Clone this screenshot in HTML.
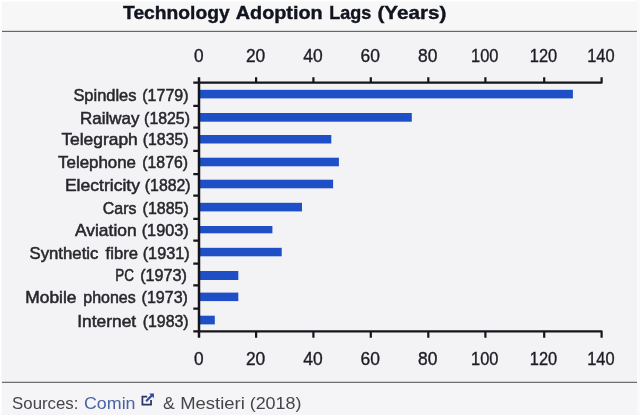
<!DOCTYPE html>
<html lang="en"><head><meta charset="utf-8"><title>Technology Adoption Lags (Years)</title>
<style>html,body{margin:0;padding:0;background:#fff;}body{width:640px;height:415px;overflow:hidden;}svg{display:block;}text{font-family:"Liberation Sans",sans-serif;}</style></head><body>
<svg width="640" height="415" viewBox="0 0 640 415">
<defs><filter id="soft" x="0" y="0" width="640" height="415" filterUnits="userSpaceOnUse" color-interpolation-filters="sRGB"><feGaussianBlur stdDeviation="0.42"/></filter></defs>
<rect x="0" y="0" width="640" height="415" fill="#ffffff"/>
<g filter="url(#soft)">
<rect x="637" y="0" width="3" height="415" fill="#fafafb"/>
<rect x="1.5" y="1.5" width="635.5" height="30" fill="#f7f7f7"/>
<rect x="1.5" y="31.5" width="635.5" height="350.5" fill="#f3f3f6"/>
<rect x="1.5" y="382" width="635.5" height="33" fill="#f5f5f7"/>
<rect x="2" y="30.8" width="635" height="1.2" fill="#686868"/>
<rect x="2" y="381.75" width="635" height="1.2" fill="#686868"/>
<g font-weight="bold" font-size="18.4" fill="#12141f" stroke="#12141f" stroke-width="0.4">
<text x="123.1" y="18.8" textLength="106.5" lengthAdjust="spacingAndGlyphs">Technology</text>
<text x="235.8" y="18.8" textLength="86.8" lengthAdjust="spacingAndGlyphs">Adoption</text>
<text x="329.3" y="18.8" textLength="42.0" lengthAdjust="spacingAndGlyphs">Lags</text>
<text x="377.4" y="18.8" textLength="68.9" lengthAdjust="spacingAndGlyphs">(Years)</text>
</g>
<g fill="#1f4fc6">
<rect x="199.0" y="89.8" width="373.9" height="8.6"/>
<rect x="199.0" y="113.0" width="212.8" height="8.7"/>
<rect x="199.0" y="135.0" width="132.3" height="8.5"/>
<rect x="199.0" y="157.7" width="139.9" height="8.6"/>
<rect x="199.0" y="179.7" width="134.1" height="8.6"/>
<rect x="199.0" y="202.8" width="103.0" height="8.6"/>
<rect x="199.0" y="226.0" width="73.4" height="7.3"/>
<rect x="199.0" y="247.8" width="82.7" height="8.5"/>
<rect x="199.0" y="271.0" width="39.3" height="9.0"/>
<rect x="199.0" y="292.6" width="39.3" height="8.5"/>
<rect x="199.0" y="315.7" width="15.8" height="8.7"/>
</g>
<g stroke="#15151a" stroke-width="2.2" fill="none" stroke-linecap="butt">
<path stroke-width="2.5" d="M199.0 77.2V337.8"/>
<path stroke-linejoin="round" d="M193.3 82.7H601.6V77.2"/>
<path stroke-linejoin="round" d="M193.3 331.3H601.6V337.8"/>
<path d="M256.1 77.2V82.7M256.1 331.3V337.8M313.4 77.2V82.7M313.4 331.3V337.8M370.8 77.2V82.7M370.8 331.3V337.8M428.3 77.2V82.7M428.3 331.3V337.8M485.4 77.2V82.7M485.4 331.3V337.8M544.2 77.2V82.7M544.2 331.3V337.8"/>
<path d="M193.3 105.9H199.0M193.3 127.6H199.0M193.3 150.9H199.0M193.3 174.1H199.0M193.3 195.6H199.0M193.3 218.9H199.0M193.3 240.7H199.0M193.3 263.7H199.0M193.3 285.4H199.0M193.3 308.6H199.0"/>
</g>
<g font-size="17.8" fill="#1c1c22" stroke="#1c1c22" stroke-width="0.35" text-anchor="middle">
<text x="198.7" y="62.0" textLength="9.6" lengthAdjust="spacingAndGlyphs">0</text>
<text x="198.7" y="365.4" textLength="9.6" lengthAdjust="spacingAndGlyphs">0</text>
<text x="255.6" y="62.0" textLength="19.4" lengthAdjust="spacingAndGlyphs">20</text>
<text x="255.6" y="365.4" textLength="19.4" lengthAdjust="spacingAndGlyphs">20</text>
<text x="312.9" y="62.0" textLength="19.4" lengthAdjust="spacingAndGlyphs">40</text>
<text x="312.9" y="365.4" textLength="19.4" lengthAdjust="spacingAndGlyphs">40</text>
<text x="370.3" y="62.0" textLength="19.4" lengthAdjust="spacingAndGlyphs">60</text>
<text x="370.3" y="365.4" textLength="19.4" lengthAdjust="spacingAndGlyphs">60</text>
<text x="427.8" y="62.0" textLength="19.4" lengthAdjust="spacingAndGlyphs">80</text>
<text x="427.8" y="365.4" textLength="19.4" lengthAdjust="spacingAndGlyphs">80</text>
<text x="484.7" y="62.0" textLength="27.4" lengthAdjust="spacingAndGlyphs">100</text>
<text x="484.7" y="365.4" textLength="27.4" lengthAdjust="spacingAndGlyphs">100</text>
<text x="543.5" y="62.0" textLength="27.4" lengthAdjust="spacingAndGlyphs">120</text>
<text x="543.5" y="365.4" textLength="27.4" lengthAdjust="spacingAndGlyphs">120</text>
<text x="600.9" y="62.0" textLength="27.4" lengthAdjust="spacingAndGlyphs">140</text>
<text x="600.9" y="365.4" textLength="27.4" lengthAdjust="spacingAndGlyphs">140</text>
</g>
<g font-size="16.2" fill="#27272c" stroke="#27272c" stroke-width="0.5">
<text x="73.4" y="100.9" textLength="63.1" lengthAdjust="spacingAndGlyphs">Spindles</text>
<text x="142.3" y="100.9" textLength="46.2" lengthAdjust="spacingAndGlyphs">(1779)</text>
<text x="80.1" y="123.5" textLength="59.4" lengthAdjust="spacingAndGlyphs">Railway</text>
<text x="144.1" y="123.5" textLength="45.9" lengthAdjust="spacingAndGlyphs">(1825)</text>
<text x="61.4" y="144.5" textLength="76.4" lengthAdjust="spacingAndGlyphs">Telegraph</text>
<text x="142.8" y="144.5" textLength="45.7" lengthAdjust="spacingAndGlyphs">(1835)</text>
<text x="58.1" y="168.2" textLength="77.9" lengthAdjust="spacingAndGlyphs">Telephone</text>
<text x="142.3" y="168.2" textLength="45.7" lengthAdjust="spacingAndGlyphs">(1876)</text>
<text x="64.9" y="190.7" textLength="75.1" lengthAdjust="spacingAndGlyphs">Electricity</text>
<text x="144.8" y="190.7" textLength="45.8" lengthAdjust="spacingAndGlyphs">(1882)</text>
<text x="102.8" y="213.7" textLength="33.6" lengthAdjust="spacingAndGlyphs">Cars</text>
<text x="142.6" y="213.7" textLength="46.1" lengthAdjust="spacingAndGlyphs">(1885)</text>
<text x="75.0" y="236.4" textLength="61.6" lengthAdjust="spacingAndGlyphs">Aviation</text>
<text x="141.7" y="236.4" textLength="47.0" lengthAdjust="spacingAndGlyphs">(1903)</text>
<text x="29.5" y="258.6" textLength="68.9" lengthAdjust="spacingAndGlyphs">Synthetic</text>
<text x="105.6" y="258.6" textLength="32.4" lengthAdjust="spacingAndGlyphs">fibre</text>
<text x="142.7" y="258.6" textLength="47.0" lengthAdjust="spacingAndGlyphs">(1931)</text>
<text x="115.3" y="281.2" textLength="18.7" lengthAdjust="spacingAndGlyphs">PC</text>
<text x="140.2" y="281.2" textLength="46.8" lengthAdjust="spacingAndGlyphs">(1973)</text>
<text x="25.3" y="303.4" textLength="51.1" lengthAdjust="spacingAndGlyphs">Mobile</text>
<text x="83.3" y="303.4" textLength="52.4" lengthAdjust="spacingAndGlyphs">phones</text>
<text x="141.6" y="303.4" textLength="46.3" lengthAdjust="spacingAndGlyphs">(1973)</text>
<text x="77.3" y="326.6" textLength="58.9" lengthAdjust="spacingAndGlyphs">Internet</text>
<text x="142.7" y="326.6" textLength="45.9" lengthAdjust="spacingAndGlyphs">(1983)</text>
</g>
<g font-size="17.0">
<text x="12.1" y="408.7" fill="#45454b" textLength="66.3" lengthAdjust="spacingAndGlyphs">Sources:</text>
<text x="84" y="408.7" fill="#4a63a2" textLength="51.5" lengthAdjust="spacingAndGlyphs">Comin</text>
<text x="163.0" y="408.7" fill="#45454b" textLength="11.8" lengthAdjust="spacingAndGlyphs">&amp;</text>
<text x="180.2" y="408.7" fill="#45454b" textLength="64.6" lengthAdjust="spacingAndGlyphs">Mestieri</text>
<text x="249.7" y="408.7" fill="#45454b" textLength="51.8" lengthAdjust="spacingAndGlyphs">(2018)</text>
</g>
<path d="M147.2 396.7H142.4V404.5H151.05V400" fill="none" stroke="#2a3763" stroke-width="1.75"/>
<path d="M146.1 401.3L152.3 395.1" fill="none" stroke="#2c479c" stroke-width="2.1"/>
<path d="M149.2 393.5H153.9V398.2Z" fill="#2c479c"/>
</g>
</svg></body></html>
